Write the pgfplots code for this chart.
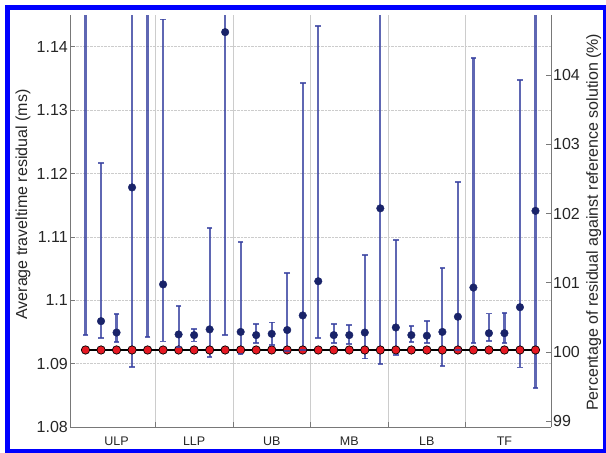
\documentclass[border=0pt]{standalone}
\usepackage{pgfplots}
\pgfplotsset{compat=1.18}
\usepackage{pgfplotstable}
\usepackage{fontspec}
\setmainfont{Liberation Sans}
\definecolor{errcol}{RGB}{55,65,160}
\definecolor{meancol}{RGB}{25,35,105}
\definecolor{refred}{RGB}{230,25,35}
\definecolor{axgray}{RGB}{120,120,120}
\definecolor{framblue}{RGB}{0,0,255}

% mean, upper end (hi) and lower end (lo) of each error bar
\pgfplotstableread{
x y hi lo
1 1.1600 1.2000 1.0945
2 1.0967 1.1216 1.0940
3 1.0949 1.0978 1.0934
4 1.1178 1.2000 1.0895
5 1.1600 1.2000 1.0942
6 1.1025 1.1443 1.0935
7 1.0946 1.0991 1.0926
8 1.0945 1.0955 1.0935
9 1.0954 1.1114 1.0911
10 1.1423 1.2000 1.0945
11 1.0950 1.1092 1.0915
12 1.0945 1.0963 1.0933
13 1.0947 1.0965 1.0930
14 1.0953 1.1043 1.0920
15 1.0976 1.1343 1.0921
16 1.1030 1.1433 1.0941
17 1.0945 1.0962 1.0933
18 1.0945 1.0961 1.0931
19 1.0949 1.1071 1.0908
20 1.1145 1.2000 1.0900
21 1.0957 1.1095 1.0913
22 1.0945 1.0959 1.0934
23 1.0944 1.0967 1.0933
24 1.0950 1.1051 1.0896
25 1.0974 1.1186 1.0921
26 1.1020 1.1382 1.0933
27 1.0948 1.0979 1.0936
28 1.0948 1.0980 1.0933
29 1.0989 1.1348 1.0894
30 1.1141 1.2000 1.0861
}\meantable

% error bar segments (lo to hi), separated by nan rows
\pgfplotstableread{
x y
1 1.0945
1 1.2000
nan nan
2 1.0940
2 1.1216
nan nan
3 1.0934
3 1.0978
nan nan
4 1.0895
4 1.2000
nan nan
5 1.0942
5 1.2000
nan nan
6 1.0935
6 1.1443
nan nan
7 1.0926
7 1.0991
nan nan
8 1.0935
8 1.0955
nan nan
9 1.0911
9 1.1114
nan nan
10 1.0945
10 1.2000
nan nan
11 1.0915
11 1.1092
nan nan
12 1.0933
12 1.0963
nan nan
13 1.0930
13 1.0965
nan nan
14 1.0920
14 1.1043
nan nan
15 1.0921
15 1.1343
nan nan
16 1.0941
16 1.1433
nan nan
17 1.0933
17 1.0962
nan nan
18 1.0931
18 1.0961
nan nan
19 1.0908
19 1.1071
nan nan
20 1.0900
20 1.2000
nan nan
21 1.0913
21 1.1095
nan nan
22 1.0934
22 1.0959
nan nan
23 1.0933
23 1.0967
nan nan
24 1.0896
24 1.1051
nan nan
25 1.0921
25 1.1186
nan nan
26 1.0933
26 1.1382
nan nan
27 1.0936
27 1.0979
nan nan
28 1.0933
28 1.0980
nan nan
29 1.0894
29 1.1348
nan nan
30 1.0861
30 1.2000
}\bartable

\pgfplotstableread{
x y
1 1.09215
2 1.09215
3 1.09215
4 1.09215
5 1.09215
6 1.09215
7 1.09215
8 1.09215
9 1.09215
10 1.09215
11 1.09215
12 1.09215
13 1.09215
14 1.09215
15 1.09215
16 1.09215
17 1.09215
18 1.09215
19 1.09215
20 1.09215
21 1.09215
22 1.09215
23 1.09215
24 1.09215
25 1.09215
26 1.09215
27 1.09215
28 1.09215
29 1.09215
30 1.09215
}\reftable

\begin{document}
\begin{tikzpicture}[font=\fontsize{16}{19}\selectfont]
\useasboundingbox (0,0) rectangle (606pt,453pt);
\draw[framblue, line width=5pt] (7.5pt,1.5pt) rectangle (605.5pt,445.5pt);
\begin{axis}[
  at={(70pt,26pt)}, anchor=south west,
  scale only axis, width=481pt, height=412pt,
  xmin=0, xmax=31, ymin=1.08, ymax=1.145,
  axis x line*=bottom, axis y line*=left,
  axis line style={axgray, line width=0.6pt},
  tick align=inside, major tick length=5pt,
  every tick/.style={axgray, line width=0.6pt},
  xtick={3,8,13,18,23,28},
  xticklabels={ULP,LLP,UB,MB,LB,TF},
  xtick style={draw=none},
  extra x ticks={5.5,10.5,15.5,20.5,25.5},
  extra x tick labels={},
  extra x tick style={xtick style={draw=axgray}, grid=major, major grid style={gray!40, line width=0.5pt}},
  ytick={1.08,1.09,1.10,1.11,1.12,1.13,1.14},
  yticklabels={1.08,1.09,1.1,1.11,1.12,1.13,1.14},
  ymajorgrids, y grid style={gray!40, densely dotted, line width=0.6pt},
  tick label style={text=black!85},
  yticklabel style={inner sep=2pt},
  xticklabel style={font=\fontsize{12.5}{14}\selectfont, anchor=center, yshift=-14pt},
  ylabel={Average traveltime residual (ms)},
  ylabel style={at={(axis description cs:-0.0977,0.54)}, anchor=center, text=black!85},
  unbounded coords=jump,
]
\addplot[black, line width=1.5pt, mark=*, mark size=4.2pt,
  mark options={fill=refred, draw=black, line width=0.7pt}] table[x=x,y=y] {\reftable};
% error bars
\addplot[errcol, line width=2.2pt, opacity=0.8, mark=none] table[x=x, y=y] {\bartable};
% caps
\addplot[only marks, mark=-, mark size=2.8pt, draw=errcol, line width=1.8pt, opacity=0.8]
  table[x=x, y=hi] {\meantable};
\addplot[only marks, mark=-, mark size=2.8pt, draw=errcol, line width=1.8pt, opacity=0.8]
  table[x=x, y=lo] {\meantable};
% means
\addplot[only marks, mark=*, mark size=3.8pt, mark options={fill=meancol, draw=meancol}]
  table[x=x, y=y] {\meantable};
\end{axis}
\begin{axis}[
  at={(70pt,26pt)}, anchor=south west,
  scale only axis, width=481pt, height=412pt,
  xmin=0, xmax=31, ymin=98.913, ymax=104.872,
  axis x line=none, axis y line*=right,
  axis line style={axgray, line width=0.6pt},
  tick align=inside, major tick length=5pt,
  every tick/.style={axgray, line width=0.6pt},
  ytick={99,100,101,102,103,104},
  yticklabels={99,100,101,102,103,104},
  tick label style={text=black!85},
  yticklabel style={inner sep=2pt},
  ylabel={Percentage of residual against reference solution (\%)},
  ylabel style={at={(axis description cs:1.089,0.497)}, anchor=center, rotate=0, text=black!85},
]
\end{axis}
\end{tikzpicture}
\end{document}
